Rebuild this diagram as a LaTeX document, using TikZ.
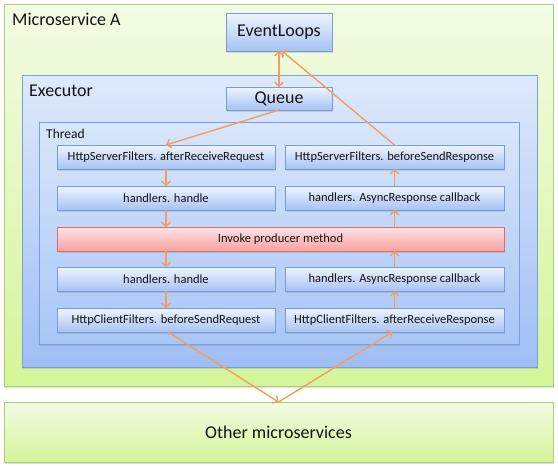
\documentclass[tikz,border=0pt]{standalone}
\usepackage{fontspec}
\setmainfont{Carlito}
\usetikzlibrary{arrows.meta,shadows}
\definecolor{grnTop}{RGB}{242,251,228}
\definecolor{grnBot}{RGB}{212,245,152}
\definecolor{grnLine}{RGB}{172,206,122}
\definecolor{exTop}{RGB}{222,233,252}
\definecolor{exBot}{RGB}{158,190,245}
\definecolor{exLine}{RGB}{122,158,218}
\definecolor{thTop}{RGB}{216,230,251}
\definecolor{thBot}{RGB}{168,198,247}
\definecolor{bxTop}{RGB}{238,244,254}
\definecolor{bxBot}{RGB}{166,195,243}
\definecolor{bxLine}{RGB}{120,156,214}
\definecolor{rdTop}{RGB}{255,228,228}
\definecolor{rdBot}{RGB}{249,160,160}
\definecolor{rdLine}{RGB}{210,112,112}
\definecolor{arrowc}{RGB}{245,158,92}
\definecolor{txt}{RGB}{20,20,20}
\tikzset{
  shadowed/.style={drop shadow={opacity=0.25,shadow xshift=1pt,shadow yshift=-1.5pt}},
  greenbox/.style={rectangle,draw=grnLine,line width=0.9pt,top color=grnTop,bottom color=grnBot,shadowed,inner sep=0pt,outer sep=0pt},
  execbox/.style={rectangle,draw=exLine,line width=0.9pt,top color=exTop,bottom color=exBot,shadowed,inner sep=0pt,outer sep=0pt},
  threadbox/.style={rectangle,draw=exLine,line width=0.9pt,top color=thTop,bottom color=thBot,shadowed,inner sep=0pt,outer sep=0pt},
  stepbox/.style={rectangle,draw=bxLine,line width=0.8pt,top color=bxTop,bottom color=bxBot,shadowed,inner sep=0pt,outer sep=0pt,text=txt,font=\fontsize{12.5}{14}\selectfont,minimum height=24pt},
  redbox/.style={stepbox,draw=rdLine,top color=rdTop,bottom color=rdBot},
  bigbox/.style={stepbox,font=\fontsize{18}{21}\selectfont},
  biglabel/.style={anchor=base west,inner sep=0pt,text=txt,font=\fontsize{18}{21}\selectfont},
  smalllabel/.style={anchor=base west,inner sep=0pt,text=txt,font=\fontsize{13.5}{16}\selectfont},
  flowarrow/.style={draw=arrowc,line width=1.4pt,-{Straight Barb[length=4pt,width=9pt]}},
}
\begin{document}
\begin{tikzpicture}[x=1pt,y=-1pt]
\useasboundingbox (0,0) rectangle (558,466);
% containers
\node[greenbox,minimum width=549pt,minimum height=382pt] (msa) at (278.5,195) {};
\node[biglabel] (msalabel) at (12,25) {Microservice A};
\node[greenbox,minimum width=549pt,minimum height=60pt,text=txt,font=\fontsize{18}{21}\selectfont] (other) at (278.5,432) {Other microservices};
\node[bigbox,minimum width=106pt,minimum height=38pt] (ev) at (279,32) {EventLoops};
\node[execbox,minimum width=515pt,minimum height=292pt] (exec) at (279.5,221) {};
\node[biglabel] (execlabel) at (29,96) {Executor};
\node[bigbox,minimum width=106pt,minimum height=23pt] (q) at (279,98.5) {Queue};
\node[threadbox,minimum width=480pt,minimum height=222pt] (thread) at (279,233) {};
\node[smalllabel] (threadlabel) at (46,138) {Thread};
% steps
\node[stepbox,minimum width=218pt] (r1l) at (166,157) {HttpServerFilters. afterReceiveRequest};
\node[stepbox,minimum width=219pt] (r1r) at (394.5,157) {HttpServerFilters. beforeSendResponse};
\node[stepbox,minimum width=218pt] (r2l) at (166,198) {handlers. handle};
\node[stepbox,minimum width=219pt] (r2r) at (394.5,198) {handlers. AsyncResponse callback};
\node[redbox,minimum width=447pt] (inv) at (280.5,239) {Invoke producer method};
\node[stepbox,minimum width=218pt] (r4l) at (166,279) {handlers. handle};
\node[stepbox,minimum width=219pt] (r4r) at (394.5,279) {handlers. AsyncResponse callback};
\node[stepbox,minimum width=218pt] (r5l) at (166,320) {HttpClientFilters. beforeSendRequest};
\node[stepbox,minimum width=219pt] (r5r) at (394.5,320) {HttpClientFilters. afterReceiveResponse};
% connectors
\draw[flowarrow,{Straight Barb[length=4pt,width=9pt]}-{Straight Barb[length=4pt,width=9pt]}] (ev.south) -- (q.north);
\draw[flowarrow] (q.south) -- (r1l.north);
\draw[flowarrow] (r1r.north) -- ([xshift=3pt]ev.south);
\draw[flowarrow] (r1l.south) -- (r2l.north);
\draw[flowarrow] (r2l.south) -- (r2l.south |- inv.north);
\draw[flowarrow] (r4l.north |- inv.south) -- (r4l.north);
\draw[flowarrow] (r4l.south) -- (r5l.north);
\draw[flowarrow] (r5r.north) -- (r4r.south);
\draw[flowarrow] (r4r.north) -- (r4r.north |- inv.south);
\draw[flowarrow] (r2r.south |- inv.north) -- (r2r.south);
\draw[flowarrow] (r2r.north) -- (r1r.south);
\draw[flowarrow] ([xshift=2pt]r5l.south) -- (other.north);
\draw[flowarrow] (other.north) -- ([xshift=-2pt]r5r.south);
\end{tikzpicture}
\end{document}
